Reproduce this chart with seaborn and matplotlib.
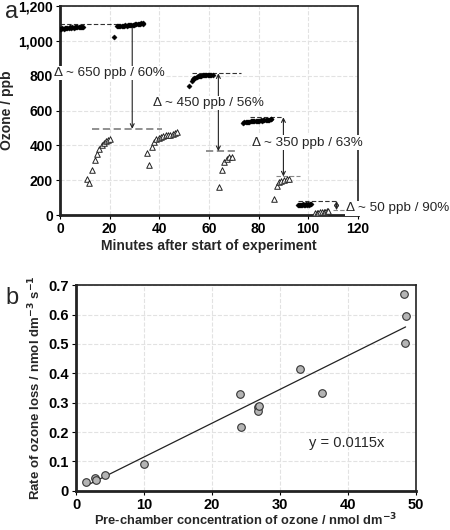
import numpy as np
import pandas as pd
import seaborn as sns
import matplotlib
matplotlib.use("Agg")
import matplotlib.pyplot as plt
from matplotlib.ticker import FuncFormatter

# ###########################################
# Panel a data: ozone in the chamber (ppb) vs minutes
# ###########################################

# filled diamonds = empty chamber, open triangles = chamber with people
dia_t1 = [0.0, 0.5, 1.0, 1.5, 2.0, 2.5, 3.0, 3.5, 4.0, 4.5, 5.0, 5.5, 6.0, 6.5, 7.0, 7.5, 8.0, 8.5, 9.0, 9.3]
dia_y1 = [1068, 1070, 1072, 1070, 1074, 1073, 1075, 1072, 1076, 1074, 1077, 1075, 1078, 1076, 1077, 1079, 1078, 1077, 1080, 1078]
dia_t2 = [21.9, 22.8, 23.3, 23.8, 24.3, 24.8, 25.3, 25.8, 26.3, 26.8, 27.3, 27.8, 28.3, 28.8, 29.3, 29.8, 30.3, 30.8, 31.3, 31.8, 32.3, 32.8, 33.3, 33.6]
dia_y2 = [1020, 1082, 1084, 1085, 1084, 1086, 1087, 1086, 1088, 1087, 1089, 1090, 1089, 1091, 1092, 1090, 1094, 1093, 1096, 1094, 1098, 1101, 1099, 1096]
dia_t3 = [52.0, 53.0, 53.5, 54.0, 54.5, 55.0, 55.5, 56.0, 56.5, 57.0, 57.5, 58.0, 58.5, 59.0, 59.5, 60.0, 60.5, 61.0, 61.7]
dia_y3 = [742, 771, 778, 784, 789, 792, 795, 797, 799, 800, 802, 803, 803, 804, 805, 805, 806, 805, 806]
dia_t4 = [73.8, 74.3, 74.8, 75.3, 75.8, 76.3, 76.8, 77.3, 77.8, 78.3, 78.8, 79.3, 79.8, 80.3, 80.8, 81.3, 81.8, 82.3, 82.8, 83.3, 83.8, 84.3, 84.8, 85.2]
dia_y4 = [530, 532, 533, 535, 534, 536, 537, 538, 537, 539, 540, 541, 540, 542, 543, 542, 544, 545, 546, 545, 547, 548, 549, 549]
dia_t5 = [96.0, 96.4, 96.8, 97.2, 97.6, 98.0, 98.4, 98.8, 99.2, 99.6, 100.0, 100.4, 100.8, 101.3]
dia_y5 = [57, 60, 58, 61, 59, 62, 60, 61, 63, 60, 62, 61, 63, 62]

tri_t1 = [10.7, 11.8, 12.9, 14.0, 14.9, 15.8, 16.8, 17.6, 18.5, 19.5, 20.3]
tri_y1 = [207, 185, 258, 314, 352, 379, 400, 413, 423, 431, 438]
tri_t2 = [35.0, 36.0, 37.0, 37.9, 38.8, 39.7, 40.7, 41.6, 42.6, 43.5, 44.4, 45.4, 46.2, 47.0]
tri_y2 = [354, 285, 392, 419, 434, 442, 450, 454, 458, 458, 460, 465, 473, 478]
tri_t3 = [64.0, 65.1, 66.2, 67.2, 68.2, 69.2]
tri_y3 = [159, 260, 305, 321, 331, 336]
tri_t4 = [86.2, 87.3, 88.2, 89.1, 90.2, 91.3, 92.3]
tri_y4 = [90, 167, 188, 197, 201, 205, 208]
tri_t5 = [102.7, 103.4, 104.1, 104.8, 105.5, 106.2, 106.9, 107.5, 108.0]
tri_y5 = [12, 13, 15, 17, 18, 20, 21, 22, 23]

# drop annotations
before_lvl = [1095, 813, 561, 82]
after_lvl = [495, 367, 222, 29]
arrow_x = [29.1, 63.8, 90.0, 111.4]
drop_labels = ["\u0394 ~ 650 ppb / 60%", "\u0394 ~ 450 ppb / 56%", "\u0394 ~ 350 ppb / 63%", "\u0394 ~ 50 ppb / 90%"]
label_x = [19.7, 60.0, 99.7, 136.0]
label_y = [815, 643, 415, 40]
before_span = [(0, 23), (53, 73), (76.5, 89.8), (96, 112)]
after_span = [(13, 41), (59, 70.5), (87, 96.6), (110, 115)]

# ###########################################
# Panel b data: rate of ozone loss vs pre-chamber ozone
# ###########################################
conc = [1.5, 2.8, 2.9, 4.3, 10.0, 24.3, 24.1, 26.8, 26.8, 26.9, 33.0, 36.2, 48.2, 48.5, 48.4]
rate = [0.030, 0.044, 0.036, 0.053, 0.090, 0.218, 0.330, 0.285, 0.272, 0.288, 0.414, 0.333, 0.671, 0.595, 0.502]
slope = 0.0115
fit_x = [1.6, 48.5]

# ###########################################
# Style
# ###########################################
sns.set_style("whitegrid", {"grid.color": "#e2e2e2", "grid.linestyle": "--"})
plt.rcParams["font.family"] = ["Liberation Sans", "DejaVu Sans"]
plt.rcParams["xtick.bottom"] = True
plt.rcParams["ytick.left"] = True
plt.rcParams["xtick.major.size"] = 3
plt.rcParams["ytick.major.size"] = 3
plt.rcParams["xtick.color"] = "black"
plt.rcParams["ytick.color"] = "black"

fig = plt.figure(figsize=(4.5, 5.3), dpi=100)
ax1 = fig.add_axes([0.1333, 0.594, 0.662, 0.395])
ax2 = fig.add_axes([0.169, 0.074, 0.755, 0.388])

# ---------- panel a ----------
dia = pd.DataFrame({"t": dia_t1 + dia_t2 + dia_t3 + dia_t4 + dia_t5,
                    "y": dia_y1 + dia_y2 + dia_y3 + dia_y4 + dia_y5})
tri = pd.DataFrame({"t": tri_t1 + tri_t2 + tri_t3 + tri_t4 + tri_t5,
                    "y": tri_y1 + tri_y2 + tri_y3 + tri_y4 + tri_y5})
sns.scatterplot(data=dia, x="t", y="y", ax=ax1, marker="D", s=7, color="black",
                edgecolor="black", linewidth=0.3, zorder=3)
sns.scatterplot(data=tri, x="t", y="y", ax=ax1, marker="^", s=16, facecolor="white",
                edgecolor="#222222", linewidth=0.7, zorder=3)

for i in range(4):
    ax1.hlines(before_lvl[i], before_span[i][0], before_span[i][1], colors="#333333",
               linestyles=(0, (4, 2)), linewidth=0.8, zorder=2)
    ax1.hlines(after_lvl[i], after_span[i][0], after_span[i][1], colors="#888888",
               linestyles=(0, (4, 2)), linewidth=1.3 if i < 2 else 0.8, zorder=2)
    style = "->" if i == 0 else "<->"
    ax1.annotate("", xy=(arrow_x[i], after_lvl[i]), xytext=(arrow_x[i], before_lvl[i]),
                 arrowprops=dict(arrowstyle=style, color="#222222", lw=0.8,
                                 shrinkA=0, shrinkB=0, mutation_scale=7), zorder=2)
    ax1.text(label_x[i], label_y[i], drop_labels[i], fontsize=9.7, ha="center", va="center",
             bbox=dict(facecolor="white", edgecolor="none", pad=1.0), zorder=5, clip_on=False)

ax1.set_xlim(0, 120)
ax1.set_ylim(0, 1200)
ax1.set_xticks([0, 20, 40, 60, 80, 100, 120])
ax1.set_yticks([0, 200, 400, 600, 800, 1000, 1200])
ax1.yaxis.set_major_formatter(FuncFormatter(lambda v, p: f"{int(v):,}"))
ax1.set_xlabel("Minutes after start of experiment", fontsize=10, fontweight="bold", labelpad=2)
ax1.set_ylabel("Ozone / ppb", fontsize=10, fontweight="bold", labelpad=3)

# ---------- panel b ----------
pts = pd.DataFrame({"conc": conc, "rate": rate})
sns.scatterplot(data=pts, x="conc", y="rate", ax=ax2, s=30, color="#b4b4b4",
                edgecolor="#333333", linewidth=0.8, zorder=3)
fit = pd.DataFrame({"x": fit_x, "y": [slope * v for v in fit_x]})
sns.lineplot(data=fit, x="x", y="y", ax=ax2, color="#222222", linewidth=0.9, zorder=2)
ax2.text(39.8, 0.162, f"y = {slope}x", fontsize=10.5, ha="center", va="center")

ax2.set_xlim(0, 50)
ax2.set_ylim(0, 0.7)
ax2.set_xticks([0, 10, 20, 30, 40, 50])
ax2.set_yticks([0, 0.1, 0.2, 0.3, 0.4, 0.5, 0.6, 0.7])
ax2.yaxis.set_major_formatter(FuncFormatter(lambda v, p: "0" if v == 0 else f"{v:.1f}"))
ax2.set_xlabel("Pre-chamber concentration of ozone / nmol dm$^{\\mathbf{-3}}$",
               fontsize=9.3, fontweight="bold", labelpad=0)
ax2.set_ylabel("Rate of ozone loss / nmol dm$^{\\mathbf{-3}}$ s$^{\\mathbf{-1}}$",
               fontsize=9.5, fontweight="bold", labelpad=4)

for ax, fs in [(ax1, 10), (ax2, 10.5)]:
    for lab in ax.get_xticklabels() + ax.get_yticklabels():
        lab.set_fontweight("bold")
        lab.set_fontsize(fs)
    ax.tick_params(pad=2)
    for side in ["left", "bottom"]:
        ax.spines[side].set_linewidth(2.0)
        ax.spines[side].set_color("#222222")
    for side in ["top", "right"]:
        ax.spines[side].set_linewidth(1.2)
        ax.spines[side].set_color("#222222")

fig.text(0.01, 0.978, "a", fontsize=17, va="center")
fig.text(0.012, 0.438, "b", fontsize=17, va="center")

fig.savefig("out.png", dpi=100)
